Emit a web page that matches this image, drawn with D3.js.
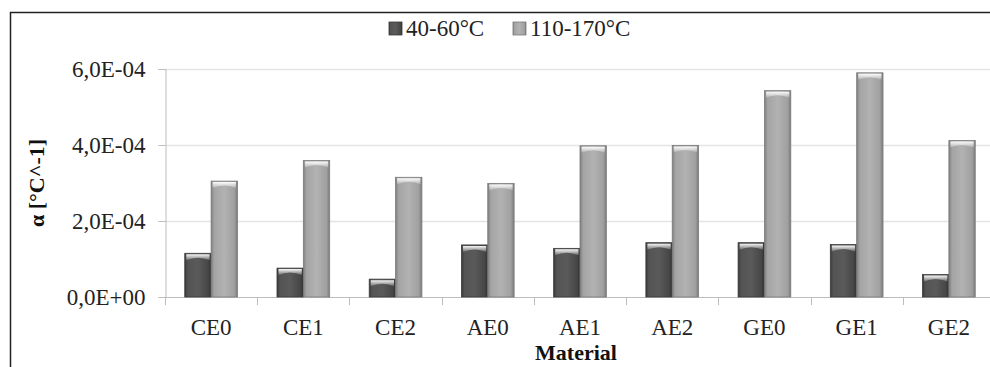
<!DOCTYPE html>
<html>
<head>
<meta charset="utf-8">
<script src="https://cdn.jsdelivr.net/npm/d3@7"></script>
<style>
  html, body { margin: 0; padding: 0; background: #fff; overflow: hidden; }
  svg { display: block; font-family: "Liberation Serif", "Times New Roman", serif; }
</style>
</head>
<body>
<div id="myPlot"></div>
<script>
// data
const materials = ['CE0', 'CE1', 'CE2', 'AE0', 'AE1', 'AE2', 'GE0', 'GE1', 'GE2'];
const seriesNames = ['40-60°C', '110-170°C'];
const lowRange = [1.15e-4, 0.76e-4, 0.47e-4, 1.37e-4, 1.28e-4, 1.43e-4, 1.43e-4, 1.38e-4, 0.59e-4];
const highRange = [3.05e-4, 3.59e-4, 3.15e-4, 2.99e-4, 3.98e-4, 3.99e-4, 5.43e-4, 5.90e-4, 4.12e-4];
const yTicks = [0, 2e-4, 4e-4, 6e-4];

const width = 990, height = 367;
const margin = {top: 69, right: -5, bottom: 70, left: 165};
const serif = '"Liberation Serif", "Times New Roman", serif';

const svg = d3.select('#myPlot')
  .append('svg')
    .attr('width', width)
    .attr('height', height);

const defs = svg.append('defs');
// cylinder-ish shading for the two series
const shades = [
  {id: 'gDark', stops: ['#3a3a3a', '#545454', '#5a5a5a', '#474747', '#313131']},
  {id: 'gLight', stops: ['#7e7e7e', '#a4a4a4', '#b2b2b2', '#a0a0a0', '#7a7a7a']}
];
shades.forEach(s => {
  const g = defs.append('linearGradient').attr('id', s.id)
    .attr('x1', 0).attr('x2', 1).attr('y1', 0).attr('y2', 0);
  const offs = [0, 0.12, 0.5, 0.88, 1];
  s.stops.forEach((c, i) => g.append('stop').attr('offset', offs[i]).attr('stop-color', c));
});
const capG = defs.append('linearGradient').attr('id', 'gCap')
  .attr('x1', 0).attr('x2', 0).attr('y1', 0).attr('y2', 1);
capG.append('stop').attr('offset', 0).attr('stop-color', '#ffffff').attr('stop-opacity', 0.95);
capG.append('stop').attr('offset', 1).attr('stop-color', '#ffffff').attr('stop-opacity', 0.15);

// outer frame (cropped at right and bottom in the reference)
svg.append('rect')
  .attr('x', 10.5).attr('y', 12.5)
  .attr('width', 1000).attr('height', 400)
  .attr('fill', 'none')
  .attr('stroke', '#222')
  .attr('stroke-width', 1.5);

const plotW = 995 - margin.left;
const plotBottom = 297;

const x = d3.scaleBand()
  .domain(materials)
  .range([margin.left, margin.left + plotW])
  .paddingInner(1.5 / 3.5)
  .paddingOuter(0.75 / 3.5);

const x1 = d3.scaleBand()
  .domain([0, 1])
  .range([0, x.bandwidth()]);

const y = d3.scaleLinear()
  .domain([0, 6e-4])
  .range([plotBottom, margin.top]);

const fmt = d => {
  if (d === 0) return '0,0E+00';
  const [m, e] = d.toExponential(1).split('e');
  const n = +e;
  return m.replace('.', ',') + 'E' + (n < 0 ? '-' : '+') + String(Math.abs(n)).padStart(2, '0');
};

// gridlines
svg.append('g')
  .selectAll('line')
  .data(yTicks.filter(d => d > 0))
  .enter()
  .append('line')
    .attr('x1', margin.left).attr('x2', width)
    .attr('y1', d => Math.round(y(d)) + 0.5).attr('y2', d => Math.round(y(d)) + 0.5)
    .attr('stroke', '#e4e4e4')
    .attr('stroke-width', 1.5);

// Y axis
const yAxis = svg.append('g')
  .attr('transform', 'translate(' + (margin.left + 0.5) + ',0)')
  .call(d3.axisLeft(y).tickValues(yTicks).tickFormat(fmt).tickSize(7).tickPadding(13))
  .attr('font-family', serif)
  .attr('font-size', 23);
yAxis.select('.domain').attr('stroke', '#bdbdbd');
yAxis.selectAll('.tick line').attr('stroke', '#bdbdbd');
yAxis.selectAll('text')
  .attr('fill', '#222')
  .attr('dy', '0.33em');

// X axis
const step = x.step();
svg.append('line')
  .attr('x1', margin.left).attr('x2', width)
  .attr('y1', plotBottom + 0.5).attr('y2', plotBottom + 0.5)
  .attr('stroke', '#bdbdbd');
svg.append('g')
  .selectAll('line')
  .data(d3.range(materials.length + 1))
  .enter()
  .append('line')
    .attr('x1', i => Math.round(margin.left + i * step) + 0.5)
    .attr('x2', i => Math.round(margin.left + i * step) + 0.5)
    .attr('y1', plotBottom).attr('y2', plotBottom + 8)
    .attr('stroke', '#bdbdbd');
const xAxis = svg.append('g')
  .attr('transform', 'translate(0,' + plotBottom + ')')
  .call(d3.axisBottom(x).tickSize(0).tickPadding(22))
  .attr('font-family', serif)
  .attr('font-size', 23);
xAxis.select('.domain').remove();
xAxis.selectAll('text')
  .attr('fill', '#222');

// bars
const series = [lowRange, highRange];
const groups = svg.append('g')
  .selectAll('g')
  .data(materials)
  .enter()
  .append('g')
    .attr('transform', d => 'translate(' + x(d) + ',0)');

series.forEach((vals, si) => {
  const bw = x1.bandwidth();
  groups.append('rect')
    .attr('x', x1(si))
    .attr('y', (d, i) => y(vals[i]))
    .attr('width', bw)
    .attr('height', (d, i) => plotBottom - y(vals[i]))
    .attr('fill', si === 0 ? 'url(#gDark)' : 'url(#gLight)')
    .attr('stroke', si === 0 ? '#3a3a3a' : '#7a7a7a')
    .attr('stroke-width', 0.8);
  // bevelled cap
  groups.append('path')
    .attr('d', (d, i) => {
      const x0 = x1(si) + 1.5, x2 = x1(si) + bw - 1.5, t = y(vals[i]) + 1;
      return 'M' + x0 + ',' + t + ' L' + x2 + ',' + t +
        ' L' + x2 + ',' + (t + 6) +
        ' Q' + (x0 + x2) / 2 + ',' + (t + 1) + ' ' + x0 + ',' + (t + 6) + ' Z';
    })
    .attr('fill', 'url(#gCap)');
});

// axis titles
svg.append('text')
  .attr('x', (margin.left + 995) / 2 - 4)
  .attr('y', 360)
  .attr('text-anchor', 'middle')
  .style('font-size', '22px')
  .style('font-weight', 'bold')
  .attr('fill', '#111')
  .text('Material');

svg.append('text')
  .attr('transform', 'translate(44,' + (y(3e-4)) + ') rotate(-90)')
  .attr('text-anchor', 'middle')
  .style('font-size', '22px')
  .style('font-weight', 'bold')
  .attr('fill', '#111')
  .text('α [°C^-1]');

// legend
const legendX = [389, 513];
const legend = svg.append('g')
  .selectAll('g')
  .data(seriesNames)
  .enter()
  .append('g')
    .attr('transform', (d, i) => 'translate(' + legendX[i] + ',22)');
legend.append('rect')
  .attr('width', 13).attr('height', 13)
  .attr('fill', (d, i) => i === 0 ? 'url(#gDark)' : 'url(#gLight)')
  .attr('stroke', (d, i) => i === 0 ? '#3a3a3a' : '#7a7a7a')
  .attr('stroke-width', 0.8);
legend.append('text')
  .attr('x', 17)
  .attr('y', 14)
  .style('font-size', '23px')
  .attr('fill', '#222')
  .text(d => d);
</script>
</body>
</html>
